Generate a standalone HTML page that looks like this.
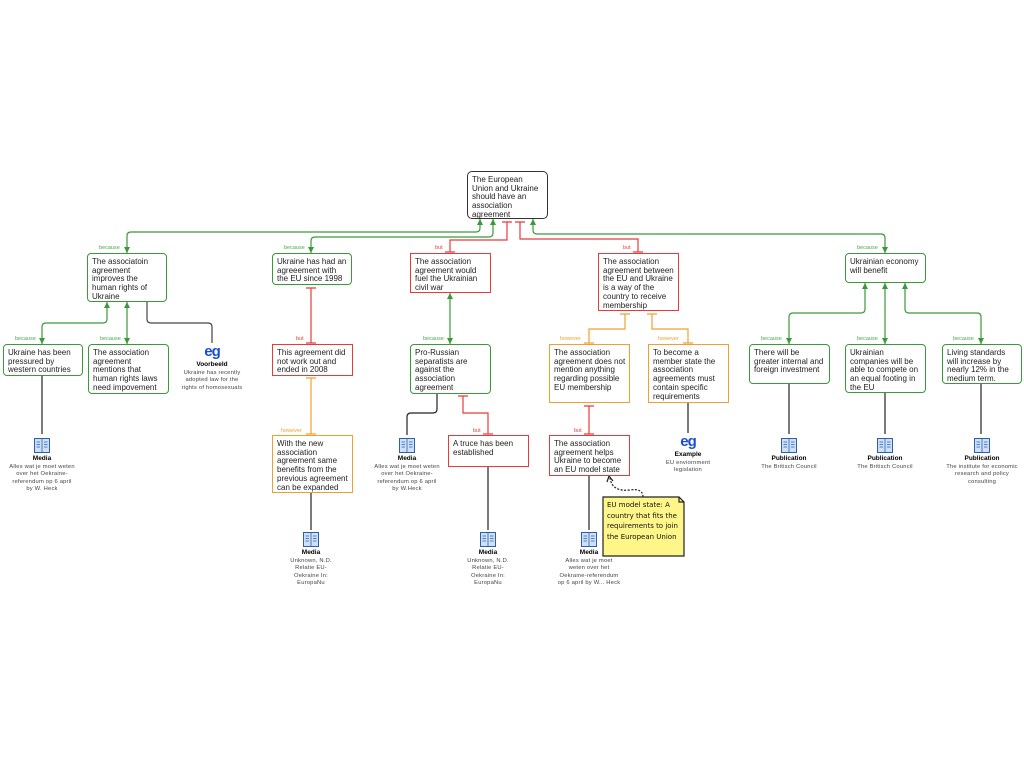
<!DOCTYPE html>
<html><head><meta charset="utf-8">
<style>
html,body{margin:0;padding:0;background:#fff;}
#c{position:relative;width:1024px;height:768px;overflow:hidden;font-family:"Liberation Sans",sans-serif;}
.b{position:absolute;box-sizing:border-box;background:#fff;font-size:8px;line-height:8.7px;color:#222;padding:4px 3px 3px 4px;}
.g{border:1.5px solid #3a9a3a;border-radius:4px;}
.r{border:1.5px solid #e83a3a;}
.o{border:1.5px solid #f0a030;}
.k{border:1.5px solid #333;border-radius:5px;}
.l{position:absolute;font-size:5.5px;}
.lg{color:#4aaa4a}.lr{color:#e84040}.lo{color:#f0a030}
.ic{position:absolute;text-align:center;font-size:5.8px;color:#444;line-height:7.4px;letter-spacing:0.2px;}
.ic b{display:block;font-size:6.5px;color:#000;line-height:10px;letter-spacing:0;}
.bk{display:block;margin:0 auto 1px;width:16px;height:15px;}
.eg{display:block;font-size:15px;color:#1a4fd0;font-weight:bold;line-height:13px;letter-spacing:-1px;margin-bottom:2px;}
</style></head><body><div id="c">
<svg width="1024" height="768" style="position:absolute;left:0;top:0" fill="none" stroke-width="1.2">
<g stroke="#3a9a3a">
<path d="M480 219 V228 Q480 232 476 232 H131 Q127 232 127 236 V253"/>
<path d="M493 219 V233 Q493 237 489 237 H315 Q311 237 311 241 V253"/>
<path d="M533 219 V230 Q533 234 537 234 H881 Q885 234 885 238 V253"/>
<path d="M107 302 V319 Q107 323 103 323 H46 Q42 323 42 327 V344"/>
<path d="M127 302 V344"/>
<path d="M450 293 V344"/>
<path d="M865 283 V309 Q865 313 861 313 H793 Q789 313 789 317 V344"/>
<path d="M885 283 V344"/>
<path d="M905 283 V309 Q905 313 909 313 H977 Q981 313 981 317 V344"/>
</g>
<g fill="#3a9a3a"><path d="M477 225 L480 219 L483 225Z"/><path d="M490 225 L493 219 L496 225Z"/><path d="M530 225 L533 219 L536 225Z"/>
<path d="M104 308 L107 302 L110 308Z"/><path d="M124 308 L127 302 L130 308Z"/><path d="M447 299 L450 293 L453 299Z"/>
<path d="M862 289 L865 283 L868 289Z"/><path d="M882 289 L885 283 L888 289Z"/><path d="M902 289 L905 283 L908 289Z"/>
<path d="M124 247 L127 253 L130 247Z"/><path d="M308 247 L311 253 L314 247Z"/><path d="M882 247 L885 253 L888 247Z"/>
<path d="M39 338 L42 344 L45 338Z"/><path d="M124 338 L127 344 L130 338Z"/><path d="M447 338 L450 344 L453 338Z"/>
<path d="M786 338 L789 344 L792 338Z"/><path d="M882 338 L885 344 L888 338Z"/><path d="M978 338 L981 344 L984 338Z"/></g>
<g stroke="#e83a3a">
<path d="M507 222 V240 H450 V252"/><path d="M502 222 H512 M445 252 H455"/>
<path d="M520 222 V239 H638 V252"/><path d="M515 222 H525 M633 252 H643"/>
<path d="M311 288 V343"/><path d="M306 288 H316 M306 343 H316"/>
<path d="M463 396 V413 H488 V434"/><path d="M458 396 H468 M483 434 H493"/>
<path d="M589 406 V434"/><path d="M584 406 H594 M584 434 H594"/>
</g>
<g stroke="#f0a030">
<path d="M311 378 V434"/><path d="M306 378 H316 M306 434 H316"/>
<path d="M625 314 V329 H589 V343"/><path d="M620 314 H630 M584 343 H594"/>
<path d="M652 314 V329 H688 V343"/><path d="M647 314 H657 M683 343 H693"/>
</g>
<g stroke="#222">
<path d="M147 302 V319 Q147 323 151 323 H208 Q212 323 212 327 V343" stroke="#444"/>
<path d="M42 375 V434"/><path d="M437 393 V409 Q437 413 433 413 H411 Q407 413 407 417 V435"/>
<path d="M311 493 V530"/><path d="M488 466 V530"/><path d="M589 475 V530"/><path d="M688 403 V433"/>
<path d="M789 383 V434"/><path d="M885 392 V434"/><path d="M981 383 V434"/>
<path d="M643 497 Q643 488 630 490 Q612 492 610 478" stroke-dasharray="2,1.5"/>
<path d="M607 482 L609 476 L613 481" />
</g>
<path d="M603 497 H679 L684 502 V556 H603Z" fill="#fff68a" stroke="#222"/>
<path d="M679 497 V502 H684" stroke="#222"/>
</svg>

<div class="b k" style="left:467px;top:171px;width:81px;height:48px">The European Union and Ukraine should have an association agreement</div>

<div class="l lg" style="left:99px;top:245px">because</div>
<div class="b g" style="left:87px;top:253px;width:80px;height:49px">The associatoin agreement improves the human rights of Ukraine</div>
<div class="l lg" style="left:284px;top:245px">because</div>
<div class="b g" style="left:272px;top:253px;width:80px;height:32px">Ukraine has had an agreeement with the EU since 1998</div>
<div class="l lr" style="left:435px;top:245px">but</div>
<div class="b r" style="left:410px;top:253px;width:81px;height:40px">The association agreement would fuel the Ukrainian civil war</div>
<div class="l lr" style="left:623px;top:245px">but</div>
<div class="b r" style="left:598px;top:253px;width:81px;height:58px">The association agreement between the EU and Ukraine is a way of the country to receive membership</div>
<div class="l lg" style="left:857px;top:245px">because</div>
<div class="b g" style="left:845px;top:253px;width:81px;height:30px">Ukrainian economy will benefit</div>

<div class="l lg" style="left:15px;top:336px">because</div>
<div class="b g" style="left:3px;top:344px;width:80px;height:32px">Ukraine has been pressured by western countries</div>
<div class="l lg" style="left:100px;top:336px">because</div>
<div class="b g" style="left:88px;top:344px;width:81px;height:50px">The association agreement mentions that human rights laws need impovement</div>
<div class="ic" style="left:180px;top:345px;width:64px"><span class="eg">eg</span><b>Voorbeeld</b>Ukraine has recently adopted law for the rights of homosexuals</div>
<div class="l lr" style="left:296px;top:336px">but</div>
<div class="b r" style="left:272px;top:344px;width:81px;height:32px">This agreement did not work out and ended in 2008</div>
<div class="l lg" style="left:423px;top:336px">because</div>
<div class="b g" style="left:410px;top:344px;width:81px;height:50px">Pro-Russian separatists are against the association agreement</div>
<div class="l lo" style="left:560px;top:336px">however</div>
<div class="b o" style="left:549px;top:344px;width:81px;height:59px">The association agreement does not mention anything regarding possible EU membership</div>
<div class="l lo" style="left:658px;top:336px">however</div>
<div class="b o" style="left:648px;top:344px;width:81px;height:59px">To become a member state the association agreements must contain specific requirements</div>
<div class="l lg" style="left:761px;top:336px">because</div>
<div class="b g" style="left:749px;top:344px;width:81px;height:40px">There will be greater internal and foreign investment</div>
<div class="l lg" style="left:857px;top:336px">because</div>
<div class="b g" style="left:845px;top:344px;width:81px;height:49px">Ukrainian companies will be able to compete on an equal footing in the EU</div>
<div class="l lg" style="left:953px;top:336px">because</div>
<div class="b g" style="left:942px;top:344px;width:80px;height:40px">Living standards will increase by nearly 12% in the medium term.</div>

<div class="l lo" style="left:281px;top:428px">however</div>
<div class="b o" style="left:272px;top:435px;width:81px;height:58px">With the new association agreement same benefits from the previous agreement can be expanded</div>
<div class="l lr" style="left:473px;top:428px">but</div>
<div class="b r" style="left:448px;top:435px;width:81px;height:32px">A truce has been established</div>
<div class="l lr" style="left:574px;top:428px">but</div>
<div class="b r" style="left:549px;top:435px;width:81px;height:41px">The association agreement helps Ukraine to become an EU model state</div>

<div style="position:absolute;left:607px;top:500px;width:76px;font-family:'Comic Sans MS','DejaVu Sans',sans-serif;font-size:7px;line-height:10.6px;color:#111">EU model state: A country that fits the requirements to join the European Union</div>

<svg width="0" height="0" style="position:absolute"><defs><g id="bk"><rect x="0.5" y="0.5" width="15" height="14" fill="#cfe0f7" stroke="#2a5fb0"/><path d="M8 0.5 V14.5 M2.5 4 H6 M2.5 6.5 H6 M2.5 9 H6 M10 4 H13.5 M10 6.5 H13.5 M10 9 H13.5" stroke="#2a5fb0" stroke-width="0.8"/></g></defs></svg>

<div class="ic" style="left:9px;top:438px;width:66px"><svg class="bk"><use href="#bk"/></svg><b>Media</b>Alles wat je  moet weten over het Oekraine-referendum op 6 april by W. Heck</div>
<div class="ic" style="left:374px;top:438px;width:66px"><svg class="bk"><use href="#bk"/></svg><b>Media</b>Alles wat je  moet weten over het Oekraine-referendum op 6 april by W.Heck</div>
<div class="ic" style="left:658px;top:435px;width:60px"><span class="eg">eg</span><b>Example</b>EU enviornment legislation</div>
<div class="ic" style="left:749px;top:438px;width:80px"><svg class="bk"><use href="#bk"/></svg><b>Publication</b>The Britisch Council</div>
<div class="ic" style="left:845px;top:438px;width:80px"><svg class="bk"><use href="#bk"/></svg><b>Publication</b>The Britisch Council</div>
<div class="ic" style="left:946px;top:438px;width:72px"><svg class="bk"><use href="#bk"/></svg><b>Publication</b>The institute for economic research and policy consulting</div>
<div class="ic" style="left:285px;top:532px;width:52px"><svg class="bk"><use href="#bk"/></svg><b>Media</b>Unknown, N.D. Relatie EU-Oekraine In: EuropaNu</div>
<div class="ic" style="left:462px;top:532px;width:52px"><svg class="bk"><use href="#bk"/></svg><b>Media</b>Unknown, N.D. Relatie EU-Oekraine In: EuropaNu</div>
<div class="ic" style="left:557px;top:532px;width:64px"><svg class="bk"><use href="#bk"/></svg><b>Media</b>Alles wat je  moet weten over het Oekraine-referendum op 6 april by W... Heck</div>
</div></body></html>
